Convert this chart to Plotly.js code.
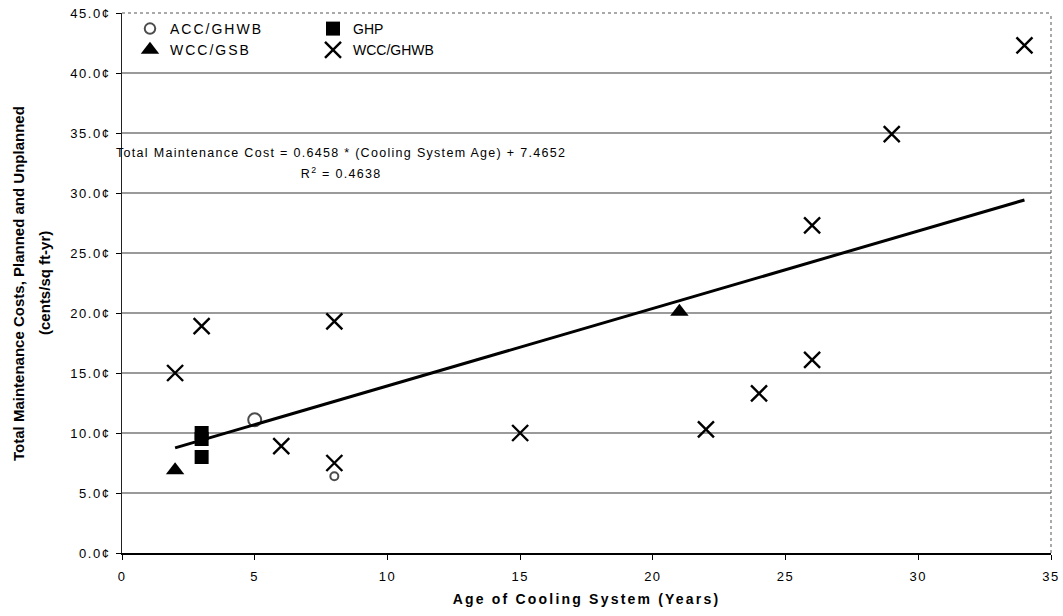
<!DOCTYPE html>
<html>
<head>
<meta charset="utf-8">
<script src="https://cdn.plot.ly/plotly-3.0.1.min.js"></script>
<style>
html,body{margin:0;padding:0;background:#fff;}
#chart{width:1063px;height:616px;}
.xtick text, .ytick text{letter-spacing:1.5px;}
.legendtext{letter-spacing:2px;}
.annotation[data-index="0"] .annotation-text, .annotation[data-index="1"] .annotation-text{letter-spacing:1.3px;}
.annotation[data-index="2"] .annotation-text, .annotation[data-index="3"] .annotation-text{letter-spacing:0px;}
.xtitle{letter-spacing:2.2px;}
</style>
</head>
<body>
<div id="chart"></div>
<script>
// Data
const accX = [5, 8];
const accY = [11.1, 6.4];
const ghpX = [3, 3, 3];
const ghpY = [10.0, 9.5, 8.0];
const gsbX = [2, 21];
const gsbY = [6.9, 20.1];
const ghwbX = [2, 3, 8, 6, 8, 15, 22, 24, 26, 26, 29, 34];
const ghwbY = [15.0, 18.9, 19.3, 8.9, 7.5, 10.0, 10.3, 13.3, 16.1, 27.3, 34.9, 42.3];
const trendX = [2, 34];
const trendY = [8.76, 29.42];
const xTicks = [0, 5, 10, 15, 20, 25, 30, 35];
const yTicks = [0, 5, 10, 15, 20, 25, 30, 35, 40, 45];
const eqText = "Total Maintenance Cost = 0.6458 * (Cooling System Age) + 7.4652";
const r2Text = "R<sup>2</sup> = 0.4638";
const yTitle1 = "Total Maintenance Costs, Planned and Unplanned";
const yTitle2 = "(cents/sq ft-yr)";
const xTitle = "Age of Cooling System (Years)";

const F = "Liberation Sans, Arial, sans-serif";
const FN = "Liberation Sans Narrow, Arial Narrow, sans-serif";

const traces = [
  {x: trendX, y: trendY, mode: 'lines', line: {color: '#000', width: 3}, showlegend: false, hoverinfo: 'skip'},
  {x: accX, y: accY, name: 'ACC/GHWB', mode: 'markers', legend: 'legend',
   marker: {symbol: 'circle-open', size: [13, 8], color: '#000', line: {width: 2, color: '#000'}}},
  {x: gsbX, y: gsbY, name: 'WCC/GSB', mode: 'markers', legend: 'legend',
   marker: {symbol: 'triangle-up', size: 16, color: '#000'}},
  {x: ghpX, y: ghpY, name: 'GHP', mode: 'markers', legend: 'legend2',
   marker: {symbol: 'square', size: 14, color: '#000'}},
  {x: ghwbX, y: ghwbY, name: 'WCC/GHWB', mode: 'markers', legend: 'legend2',
   marker: {symbol: 'x-thin-open', size: 16, color: '#000', line: {width: 2.4, color: '#000'}}}
];

const legendCommon = {
  bgcolor: 'rgba(0,0,0,0)', borderwidth: 0, orientation: 'v',
  xanchor: 'left', yanchor: 'top',
  font: {family: F, size: 14, color: '#000'}, tracegroupgap: 0, itemwidth: 30
};

const layout = {
  width: 1063, height: 616,
  margin: {l: 122, r: 12, t: 13, b: 63},
  paper_bgcolor: '#fff', plot_bgcolor: '#fff',
  showlegend: true,
  legend: Object.assign({}, legendCommon, {x: 0.0086, y: 1.0}),
  legend2: Object.assign({}, legendCommon, {x: 0.2056, y: 1.0}),
  xaxis: {
    range: [0, 35], tickvals: xTicks, ticktext: xTicks.map(String),
    showgrid: false, zeroline: false,
    showline: true, linecolor: '#000', linewidth: 2, mirror: false,
    ticks: 'outside', ticklen: 5, tickcolor: '#000', ticklabelstandoff: 5,
    tickfont: {family: F, size: 13, color: '#000'},
    title: {text: '<b>' + xTitle + '</b>', font: {family: F, size: 14, color: '#000'}, standoff: 12}
  },
  yaxis: {
    range: [0, 45], tickvals: yTicks, ticktext: yTicks.map(v => v.toFixed(1) + '¢'),
    showgrid: true, gridcolor: '#9a9a9a', gridwidth: 1.7, zeroline: false,
    showline: true, linecolor: '#222', linewidth: 1, mirror: false,
    ticks: 'outside', ticklen: 5, tickcolor: '#000', ticklabelstandoff: 3,
    tickfont: {family: F, size: 13, color: '#000'}
  },
  shapes: [
    {type: 'line', xref: 'paper', yref: 'paper', x0: 0, x1: 1, y0: 1, y1: 1, line: {color: '#555', width: 1, dash: 'dot'}},
    {type: 'line', xref: 'paper', yref: 'paper', x0: 1, x1: 1, y0: 0, y1: 1, line: {color: '#555', width: 1, dash: 'dot'}}
  ],
  annotations: [
    {xref: 'paper', yref: 'paper', x: 0.236, y: 0.741, text: eqText, showarrow: false, xanchor: 'center', yanchor: 'middle', font: {family: F, size: 12.5, color: '#000'}},
    {xref: 'paper', yref: 'paper', x: 0.236, y: 0.704, text: r2Text, showarrow: false, xanchor: 'center', yanchor: 'middle', font: {family: F, size: 12.5, color: '#000'}},
    {xref: 'paper', yref: 'paper', x: -0.112, y: 0.5, text: '<b>' + yTitle1 + '</b>', textangle: -90, showarrow: false, xanchor: 'center', yanchor: 'middle', font: {family: FN, size: 15, color: '#000'}},
    {xref: 'paper', yref: 'paper', x: -0.084, y: 0.5, text: '<b>' + yTitle2 + '</b>', textangle: -90, showarrow: false, xanchor: 'center', yanchor: 'middle', font: {family: FN, size: 15, color: '#000'}}
  ]
};

Plotly.newPlot('chart', traces, layout, {displayModeBar: false, staticPlot: true});
</script>
</body>
</html>
